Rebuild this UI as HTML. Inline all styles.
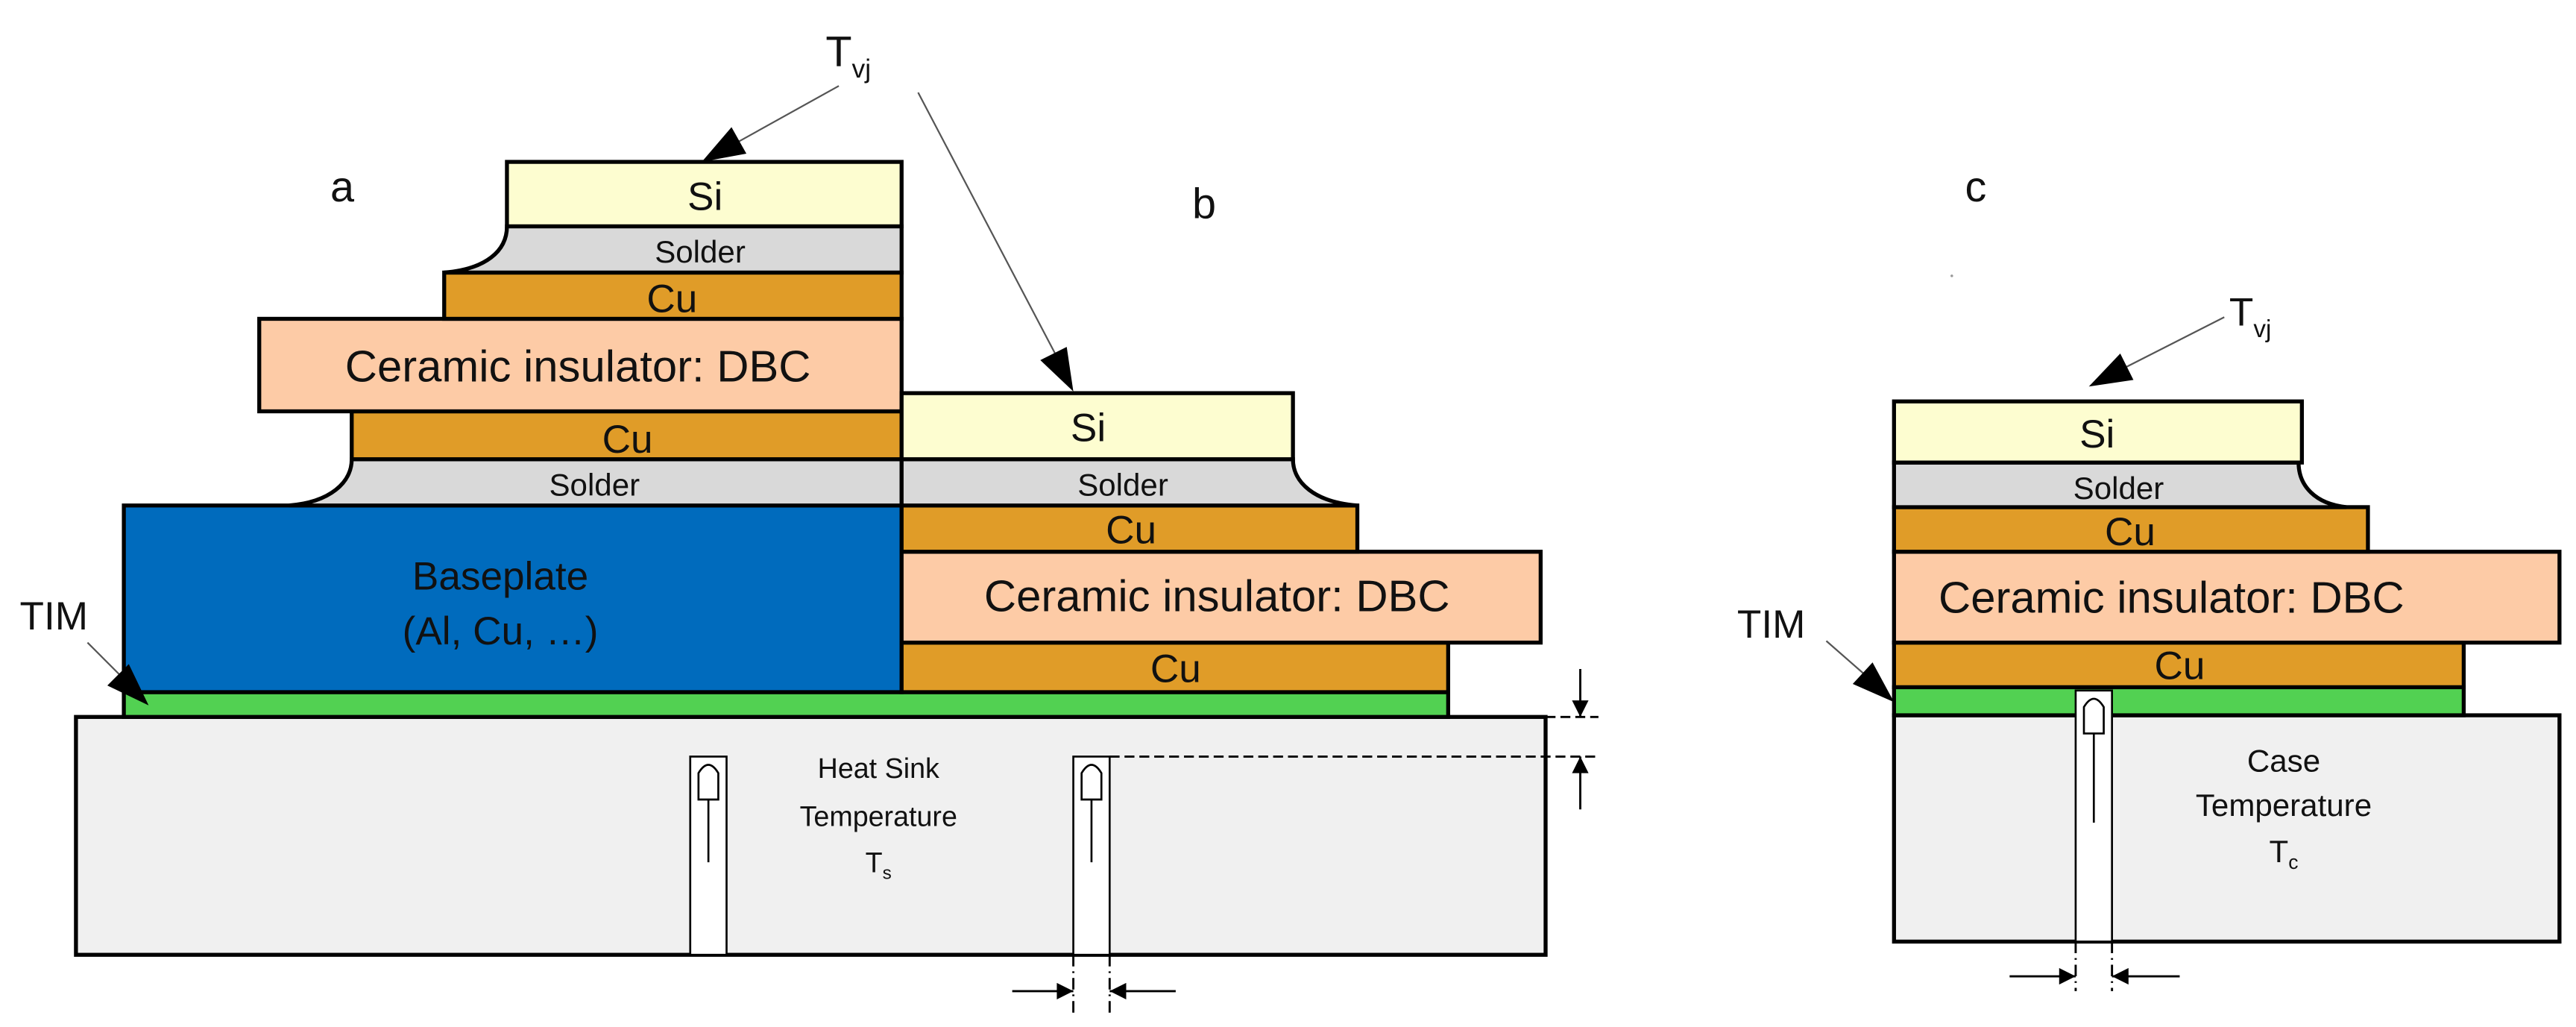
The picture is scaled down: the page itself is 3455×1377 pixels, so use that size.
<!DOCTYPE html>
<html><head><meta charset="utf-8"><style>html,body{margin:0;padding:0;background:#fff}svg{display:block}</style></head>
<body>
<svg width="3455" height="1377" viewBox="0 0 1560 621.7" preserveAspectRatio="none" xmlns="http://www.w3.org/2000/svg" font-family="Liberation Sans, sans-serif">
<defs>
<marker id="as" viewBox="0 0 10 10" refX="10" refY="5" markerWidth="14" markerHeight="10" markerUnits="userSpaceOnUse" orient="auto"><path d="M0,0 L10,5 L0,10 z" fill="#000"/></marker>
</defs>
<g stroke="#000" stroke-width="2.4">
<rect x="46" y="434" width="890" height="144" fill="#f0f0f0"/>
<rect x="75" y="419" width="802" height="15" fill="#52d152"/>
<rect x="75" y="306" width="471" height="113" fill="#006bbd"/>
<path d="M213,278 L546,278 L546,306 L175,306 C200,304 213,292 213,278 Z" fill="#d9d9d9"/>
<rect x="213" y="249" width="333" height="29" fill="#e09c28"/>
<rect x="157" y="193" width="389" height="56" fill="#fdcba6"/>
<rect x="269" y="165" width="277" height="28" fill="#e09c28"/>
<path d="M307,137 L546,137 L546,165 L269,165 C294,163 307,152 307,137 Z" fill="#d9d9d9"/>
<rect x="307" y="98" width="239" height="39" fill="#fdfdd0"/>
<rect x="546" y="389" width="331" height="30" fill="#e09c28"/>
<rect x="546" y="334" width="387" height="55" fill="#fdcba6"/>
<rect x="546" y="306" width="276" height="28" fill="#e09c28"/>
<path d="M546,278 L783,278 C783,292 796,304 822,306 L546,306 Z" fill="#d9d9d9"/>
<rect x="546" y="238" width="237" height="40" fill="#fdfdd0"/>
<rect x="1147" y="433" width="403" height="137" fill="#f0f0f0"/>
<rect x="1147" y="416" width="345" height="17" fill="#52d152"/>
<rect x="1147" y="389" width="345" height="27" fill="#e09c28"/>
<rect x="1147" y="334" width="403" height="55" fill="#fdcba6"/>
<rect x="1147" y="307" width="287" height="27" fill="#e09c28"/>
<path d="M1147,280 L1392,280 C1392,294 1402,305 1421,307 L1147,307 Z" fill="#d9d9d9"/>
<rect x="1147" y="243" width="247" height="37" fill="#fdfdd0"/>
</g>
<g stroke="#000" stroke-width="1.2" fill="#fff">
<rect x="418" y="458" width="22" height="120"/>
<rect x="650" y="458" width="22" height="120"/>
<rect x="1257" y="418" width="22" height="152"/>
<path d="M423,484 L423,468 Q429,458 435,468 L435,484 Z"/>
<path d="M655,484 L655,468 Q661,458 667,468 L667,484 Z"/>
<path d="M1262,444 L1262,428 Q1268,418 1274,428 L1274,444 Z"/>
<line x1="429" y1="484" x2="429" y2="522"/>
<line x1="661" y1="484" x2="661" y2="522"/>
<line x1="1268" y1="444" x2="1268" y2="498"/>
</g>
<g stroke="#000" stroke-width="1.3" fill="none">
<line x1="672" y1="458" x2="968" y2="458" stroke-dasharray="6,3"/>
<line x1="936" y1="434" x2="968" y2="434" stroke-dasharray="6,3"/>
<line x1="957" y1="405" x2="957" y2="434" marker-end="url(#as)"/>
<line x1="957" y1="490" x2="957" y2="458" marker-end="url(#as)"/>
<line x1="650" y1="578" x2="650" y2="615" stroke-dasharray="7,3,1,3"/>
<line x1="672" y1="578" x2="672" y2="615" stroke-dasharray="7,3,1,3"/>
<line x1="613" y1="600" x2="650" y2="600" marker-end="url(#as)"/>
<line x1="712" y1="600" x2="672" y2="600" marker-end="url(#as)"/>
<line x1="1257" y1="570" x2="1257" y2="600" stroke-dasharray="7,3,1,3"/>
<line x1="1279" y1="570" x2="1279" y2="600" stroke-dasharray="7,3,1,3"/>
<line x1="1217" y1="591" x2="1257" y2="591" marker-end="url(#as)"/>
<line x1="1320" y1="591" x2="1279" y2="591" marker-end="url(#as)"/>
</g>
<g stroke="#555" stroke-width="1" fill="none">
<line x1="508" y1="52" x2="445" y2="87"/>
<line x1="556" y1="56" x2="640" y2="216"/>
<line x1="53" y1="389" x2="74" y2="410"/>
<line x1="1347" y1="192" x2="1286" y2="223"/>
<line x1="1106" y1="388" x2="1130" y2="409"/>
</g>
<g fill="#000">
<polygon points="425,98 452,93 443,77"/>
<polygon points="650,237 646,210 630,218"/>
<polygon points="90,427 78,402 65,415"/>
<polygon points="1265,234 1292,230 1284,214"/>
<polygon points="1147,425 1134,401 1122,414"/>
</g>
<circle cx="1182" cy="167" r="0.8" fill="#999"/>
<g fill="#111" text-anchor="middle">
<text x="427" y="127" font-size="24">Si</text>
<text x="424" y="159" font-size="19">Solder</text>
<text x="407" y="189" font-size="24">Cu</text>
<text x="350" y="231" font-size="27">Ceramic insulator: DBC</text>
<text x="380" y="274" font-size="24">Cu</text>
<text x="360" y="300" font-size="19">Solder</text>
<text x="659" y="267" font-size="24">Si</text>
<text x="680" y="300" font-size="19">Solder</text>
<text x="685" y="329" font-size="24">Cu</text>
<text x="737" y="370" font-size="27">Ceramic insulator: DBC</text>
<text x="712" y="413" font-size="24">Cu</text>
<text x="1270" y="271" font-size="24">Si</text>
<text x="1283" y="302" font-size="19">Solder</text>
<text x="1290" y="330" font-size="24">Cu</text>
<text x="1315" y="371" font-size="27">Ceramic insulator: DBC</text>
<text x="1320" y="411" font-size="24">Cu</text>
<text x="532" y="471" font-size="17">Heat Sink</text>
<text x="532" y="500" font-size="17">Temperature</text>
<text x="532" y="528" font-size="17">T<tspan font-size="11" dy="4">s</tspan></text>
<text x="1383" y="467" font-size="19">Case</text>
<text x="1383" y="494" font-size="19">Temperature</text>
<text x="1383" y="522" font-size="19">T<tspan font-size="12" dy="4">c</tspan></text>
<text x="303" y="357" font-size="24">Baseplate</text>
<text x="303" y="390" font-size="24">(Al, Cu, …)</text>
</g>
<g fill="#111" font-size="26">
<text x="200" y="122">a</text>
<text x="722" y="132">b</text>
<text x="1190" y="122">c</text>
<text x="12" y="381" font-size="24">TIM</text>
<text x="1052" y="386" font-size="24">TIM</text>
<text x="500" y="40" font-size="26">T<tspan font-size="16" dy="7">vj</tspan></text>
<text x="1350" y="197" font-size="24">T<tspan font-size="15" dy="7">vj</tspan></text>
</g>
</svg>
</body></html>
